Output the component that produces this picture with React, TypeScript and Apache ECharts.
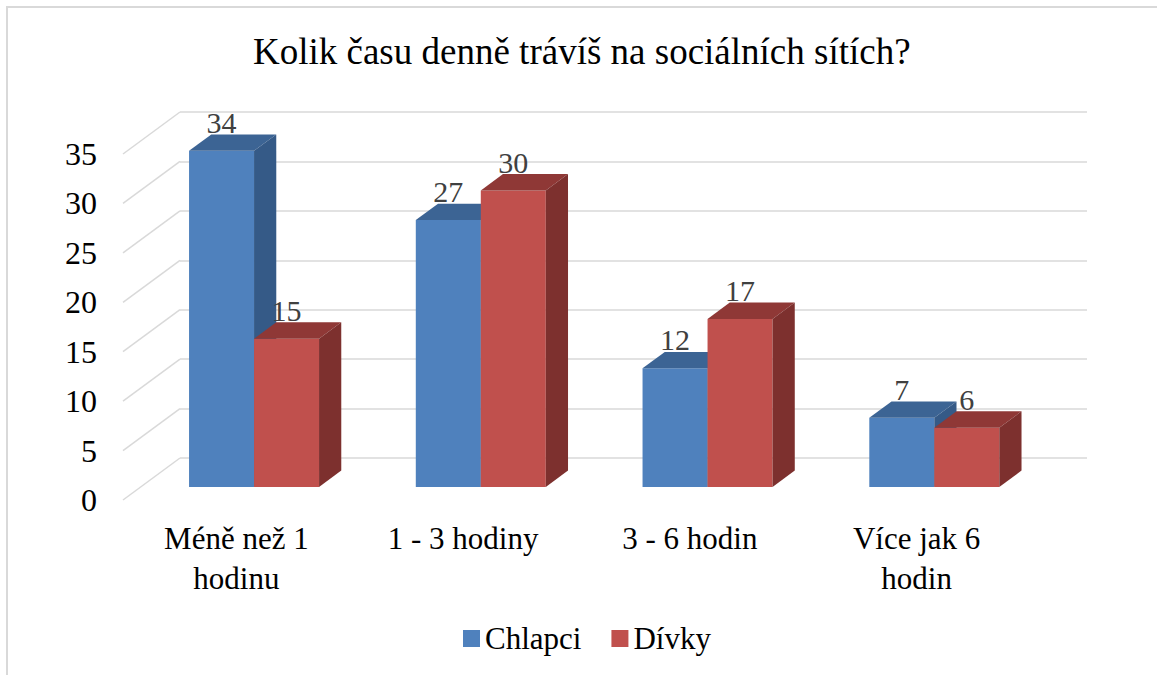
import React, { useEffect, useRef } from "react";
import * as echarts from "echarts";

const title = "Kolik času denně trávíš na sociálních sítích?";
const categories = ["Méně než 1\nhodinu", "1 - 3 hodiny", "3 - 6 hodin", "Více jak 6\nhodin"];
const seriesNames = ["Chlapci", "Dívky"];
const chlapci = [34, 27, 12, 7];
const divky = [15, 30, 17, 6];
const yTicks = [0, 5, 10, 15, 20, 25, 30, 35];

const FONT = "Liberation Serif";
const DEPTH_X = -57;
const DEPTH_Y = 42;
const FRONT_F = 0.69;
const BACK_F = 0.3;
const BAR_W = 65;

const palette = [
  { front: "#4F81BD", top: "#3C6494", side: "#355A87" },
  { front: "#C0504D", top: "#8F3836", side: "#7D302E" },
];

function makeBarRender(seriesIdx: number) {
  const c = palette[seriesIdx];
  return (params: any, api: any) => {
    const i = api.value(0);
    const v = api.value(1);
    const [cx, yTopBack] = api.coord([i, v]);
    const yBaseBack = api.coord([i, 0])[1];
    const fx = cx + DEPTH_X * FRONT_F;
    const fdy = DEPTH_Y * FRONT_F;
    const x0 = seriesIdx === 0 ? fx - BAR_W : fx;
    const x1 = x0 + BAR_W;
    const yT = yTopBack + fdy;
    const yB = yBaseBack + fdy;
    const sdx = DEPTH_X * (BACK_F - FRONT_F);
    const sdy = DEPTH_Y * (FRONT_F - BACK_F);
    return {
      type: "group",
      children: [
        { type: "rect", shape: { x: x0, y: yT, width: BAR_W, height: yB - yT }, style: { fill: c.front } },
        {
          type: "polygon",
          shape: { points: [[x0, yT], [x1, yT], [x1 + sdx, yT - sdy], [x0 + sdx, yT - sdy]] },
          style: { fill: c.top },
        },
        {
          type: "polygon",
          shape: { points: [[x1, yT], [x1 + sdx, yT - sdy], [x1 + sdx, yB - sdy], [x1, yB]] },
          style: { fill: c.side },
        },
        {
          type: "text",
          x: (x0 + x1) / 2,
          y: yT - sdy - 12,
          style: {
            text: String(v),
            fontSize: 30,
            fontFamily: FONT,
            fill: "#404040",
            align: "center",
            verticalAlign: "middle",
          },
        },
      ],
    };
  };
}

export default function App() {
  const ref = useRef<HTMLDivElement>(null);
  useEffect(() => {
    if (!ref.current) return;
    const chart = echarts.init(ref.current, undefined, { renderer: "svg" });
    const option: any = {
      animation: false,
      backgroundColor: "#ffffff",
      textStyle: { fontFamily: FONT },
      title: {
        text: title,
        left: 248,
        top: 28,
        textStyle: { fontFamily: FONT, fontSize: 37, fontWeight: "normal", color: "#000" },
      },
      legend: {
        data: seriesNames,
        bottom: 21,
        left: 463,
        padding: 0,
        icon: "rect",
        itemWidth: 17,
        itemHeight: 17,
        itemGap: 30,
        textStyle: { fontFamily: FONT, fontSize: 31, color: "#000" },
      },
      graphic: [
        {
          type: "polyline",
          shape: { points: [[7, 700], [7, 7], [1200, 7]] },
          style: { stroke: "#D9D9D9", lineWidth: 2, fill: null },
        },
      ],
      grid: [
        { left: 180, right: 70, top: 112, height: 346 },
        { left: 123, right: 127, top: 154, height: 346 },
      ],
      xAxis: [
        {
          type: "category",
          gridIndex: 0,
          data: categories,
          axisLine: { show: false },
          axisTick: { show: false },
          axisLabel: { show: false },
        },
        {
          type: "category",
          gridIndex: 1,
          data: categories,
          axisLine: { show: false },
          axisTick: { show: false },
          axisLabel: { margin: 18, fontFamily: FONT, fontSize: 31, lineHeight: 40, color: "#000", interval: 0 },
        },
      ],
      yAxis: [
        {
          type: "value",
          gridIndex: 0,
          min: 0,
          max: 35,
          interval: 5,
          axisLine: { show: false },
          axisTick: { show: false },
          axisLabel: { show: false },
          splitLine: { lineStyle: { color: "#D9D9D9", width: 1.5 } },
        },
        {
          type: "value",
          gridIndex: 1,
          min: 0,
          max: 35,
          interval: 5,
          axisLine: { show: false },
          axisTick: { show: false },
          splitLine: { show: false },
          axisLabel: { margin: 26, fontFamily: FONT, fontSize: 32, color: "#000" },
        },
      ],
      series: [
        {
          name: "floorLines",
          type: "custom",
          xAxisIndex: 0,
          yAxisIndex: 0,
          z: 1,
          silent: true,
          data: yTicks.map((t) => [0, t]),
          encode: { x: 0, y: 1 },
          renderItem: (params: any, api: any) => {
            const y = api.coord([0, api.value(1)])[1];
            const x = params.coordSys.x;
            return {
              type: "line",
              shape: { x1: x, y1: y, x2: x + DEPTH_X, y2: y + DEPTH_Y },
              style: { stroke: "#D9D9D9", lineWidth: 1.5 },
            };
          },
        },
        {
          name: seriesNames[0],
          type: "custom",
          xAxisIndex: 0,
          yAxisIndex: 0,
          z: 3,
          itemStyle: { color: palette[0].front },
          data: chlapci.map((v, i) => [i, v]),
          encode: { x: 0, y: 1 },
          renderItem: makeBarRender(0),
        },
        {
          name: seriesNames[1],
          type: "custom",
          xAxisIndex: 0,
          yAxisIndex: 0,
          z: 4,
          itemStyle: { color: palette[1].front },
          data: divky.map((v, i) => [i, v]),
          encode: { x: 0, y: 1 },
          renderItem: makeBarRender(1),
        },
      ],
    };
    chart.setOption(option);
    return () => chart.dispose();
  }, []);
  return (
    <div ref={ref} style={{ position: "fixed", left: 0, top: 0, width: 1157, height: 675, background: "#fff" }} />
  );
}
